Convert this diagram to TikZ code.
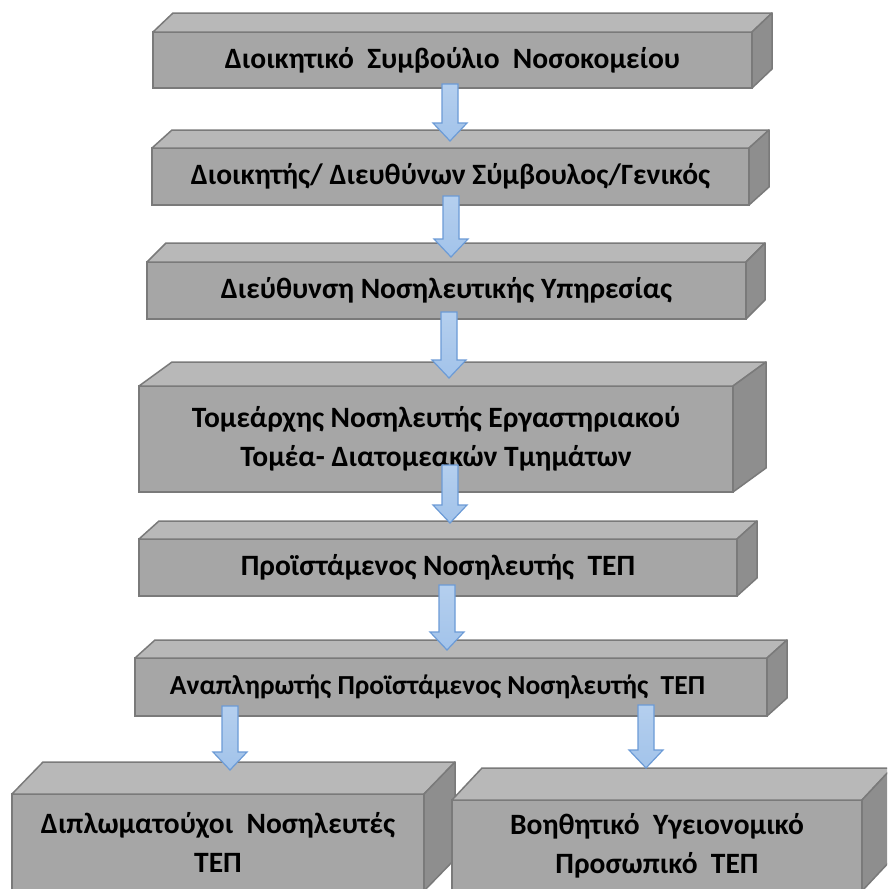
\documentclass[tikz,border=0pt]{standalone}
\usepackage{fontspec}
\setmainfont{Carlito}
\usetikzlibrary{calc}
\definecolor{frontgray}{HTML}{A6A6A6}
\definecolor{topgray}{HTML}{B8B8B8}
\definecolor{sidegray}{HTML}{8E8E8E}
\definecolor{edgegray}{HTML}{7A7A7A}
\definecolor{arrowfill}{HTML}{A2C3EA}
\definecolor{arrowedge}{HTML}{6C9BD6}
\tikzset{
  frontface/.style={draw=edgegray, fill=frontgray, line width=1.5pt, outer sep=0pt,
    inner sep=0pt, align=center, text=black,
    font=\bfseries\fontsize{29.5}{39}\selectfont},
  topface/.style={draw=edgegray, fill=topgray, line width=1.5pt, line join=round},
  sideface/.style={draw=edgegray, fill=sidegray, line width=1.5pt, line join=round},
  blockarrowstyle/.style={draw=arrowedge, top color=arrowfill!80!white, bottom color=arrowfill,
    line width=1.2pt, line join=miter}
}
% #1 name, #2 cx, #3 cy, #4 w, #5 h, #6 dx, #7 dy, #8 text
\newcommand\cubebox[8]{%
  \node[frontface, minimum width=#4pt, minimum height=#5pt] (#1) at (#2,#3) {#8};
  \filldraw[topface] (#1.north west) -- ++(#6,-#7) -- ($(#1.north east)+(#6,-#7)$) -- (#1.north east) -- cycle;
  \filldraw[sideface] (#1.north east) -- ++(#6,-#7) -- ($(#1.south east)+(#6,-#7)$) -- (#1.south east) -- cycle;
}
% #1 start point, #2 tip point
\newcommand\blockarrow[2]{%
  \path[blockarrowstyle] let \p1=#1, \p2=#2 in
    (\x1-8pt,\y1) -- (\x1+8pt,\y1) -- (\x1+8pt,\y2+18pt) -- (\x1+17pt,\y2+18pt)
    -- (\x1,\y2) -- (\x1-17pt,\y2+18pt) -- (\x1-8pt,\y2+18pt) -- cycle;
}
\begin{document}
\begin{tikzpicture}[x=1pt,y=-1pt]
\clip (0,0) rectangle (887,889);
\fill[white] (0,0) rectangle (887,889);
\cubebox{b1}{452.5}{60}{599}{56}{20}{19}{Διοικητικό\ \ Συμβούλιο\ \ Νοσοκομείου}
\cubebox{b2}{450.5}{176.5}{597}{57}{20}{18}{Διοικητής/ Διευθύνων Σύμβουλος/Γενικός}
\cubebox{b3}{446.5}{290.5}{599}{57}{19}{19}{Διεύθυνση Νοσηλευτικής Υπηρεσίας}
\cubebox{b4}{436}{439}{594}{106}{33}{24}{Τομεάρχης Νοσηλευτής Εργαστηριακού\\Τομέα- Διατομεακών Τμημάτων}
\cubebox{b5}{438}{567.5}{598}{57}{20}{18}{Προϊστάμενος Νοσηλευτής\ \ ΤΕΠ}
\cubebox{b6}{451}{687}{632}{58}{20}{18}{\fontsize{27.5}{39}\selectfont Αναπληρωτής Προϊστάμενος Νοσηλευτής\ \ ΤΕΠ\hspace*{27pt}}
\cubebox{b7}{218}{842.5}{412}{97}{31}{32}{Διπλωματούχοι\ \ Νοσηλευτές\\ΤΕΠ}
\cubebox{b8}{657}{845.5}{410}{91}{30}{32}{Βοηθητικό\ \ Υγειονομικό\\Προσωπικό\ \ ΤΕΠ}
\blockarrow{($(b1.south)+(-2.5,-4)$)}{($(b2.north)+(-0.5,-7)$)}
\blockarrow{($(b2.south)+(0.5,-9)$)}{($(b3.north)+(0,-5)$)}
\blockarrow{($(b3.south)+(2.5,-7)$)}{($(b4.north)+(0,-8)$)}
\blockarrow{($(b4.south)+(14,-27)$)}{($(b5.north)+(0,-16)$)}
\blockarrow{($(b5.south)+(9,-11)$)}{($(b6.north)+(0,-8)$)}
\blockarrow{($(b6.south)+(-221,-10)$)}{($(b7.north)+(0,-24)$)}
\blockarrow{($(b6.south)+(195,-11)$)}{($(b8.north)+(0,-32)$)}
\end{tikzpicture}
\end{document}
